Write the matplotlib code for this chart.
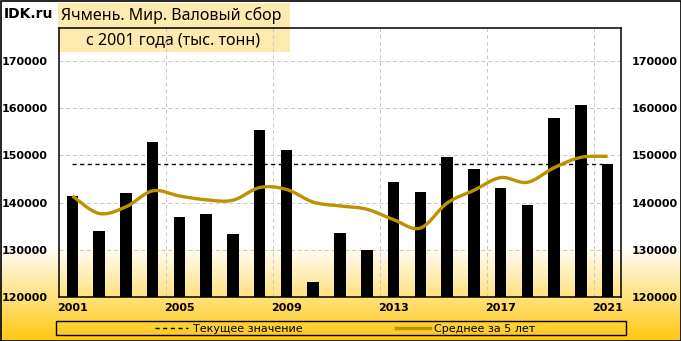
import numpy as np
import matplotlib
matplotlib.use('Agg')
from matplotlib import pyplot as plt
from matplotlib.patches import Rectangle
from matplotlib.lines import Line2D

# data (thousand tonnes)
years = list(range(2001, 2022))
harvest = [141500, 133900, 142000, 152800, 136900, 137500, 133300, 155300, 151100, 123100,
           133500, 129900, 144300, 142200, 149600, 147100, 143200, 139400, 157900, 160600, 148100]
avg5 = [141400, 137700, 139100, 142500, 141400, 140600, 140500, 143200, 142800, 140100,
        139300, 138600, 136400, 134600, 139900, 142600, 145300, 144300, 147400, 149600, 149800]
current = 148100
tick_years = [2001, 2005, 2009, 2013, 2017, 2021]
title1 = 'Ячмень. Мир. Валовый сбор'
title2 = 'с 2001 года (тыс. тонн)'
leg_cur = 'Текущее значение'
leg_avg = 'Среднее за 5 лет'

W, H = 681, 341
gold = '#BF9000'


def smooth(x, y, n=20):
    # excel style smoothed line (catmull-rom bezier)
    x = np.asarray(x, float); y = np.asarray(y, float)
    px = np.concatenate([[x[0]], x, [x[-1]]])
    py = np.concatenate([[y[0]], y, [y[-1]]])
    xs, ys = [], []
    t = np.linspace(0, 1, n)
    for i in range(1, len(px) - 2):
        p0 = np.array([px[i], py[i]]); p3 = np.array([px[i+1], py[i+1]])
        c1 = p0 + (np.array([px[i+1], py[i+1]]) - np.array([px[i-1], py[i-1]])) / 6
        c2 = p3 - (np.array([px[i+2], py[i+2]]) - np.array([px[i], py[i]])) / 6
        b = ((1-t)**3)[:, None]*p0 + (3*(1-t)**2*t)[:, None]*c1 + (3*(1-t)*t**2)[:, None]*c2 + (t**3)[:, None]*p3
        xs.extend(b[:, 0]); ys.extend(b[:, 1])
    return xs, ys


fig = plt.figure(figsize=(W/100, H/100), dpi=100)

# background: white top, gold gradient at the bottom
bg = fig.add_axes([0, 0, 1, 1], zorder=0)
bg.set_xlim(0, W); bg.set_ylim(H, 0); bg.axis('off')
rows = np.arange(H)
f = np.clip((rows - 245) / (H - 245), 0, 1)
top = np.array([1.0, 1.0, 1.0]); bot = np.array([1.0, 0.78, 0.05])
grad = top[None, :] * (1 - f[:, None]) + bot[None, :] * f[:, None]
img = np.repeat(grad[:, None, :], 2, axis=1)
bg.imshow(img, extent=(0, W, H, 0), aspect='auto', interpolation='bilinear')
bg.add_patch(Rectangle((0.5, 0.5), W-1, H-1, fill=False, ec='black', lw=1.2))
bg.add_patch(Rectangle((58, 3), 232, 49, fc='#FEE9AE', ec='none'))
bg.text(4, 14, 'IDK.ru', fontsize=10, fontweight='bold', va='center', ha='left')
bg.text(61, 15, title1, fontsize=11.5, family='Noto Sans', va='center', ha='left')
bg.text(173, 40, title2, fontsize=11.5, family='Noto Sans', va='center', ha='center')

# legend box
bg.add_patch(Rectangle((56, 321), 570, 14, fill=False, ec='black', lw=1))
bg.add_line(Line2D([155, 188], [328, 328], color='black', lw=1, ls=(0, (3, 2.5))))
bg.text(193, 328.5, leg_cur, fontsize=8, va='center', ha='left')
bg.add_line(Line2D([396, 430], [328, 328], color=gold, lw=2.5))
bg.text(434, 328.5, leg_avg, fontsize=8, va='center', ha='left')

# main plot
ax = fig.add_axes([59/W, 1 - 297/H, 562/W, 269/H], zorder=1)
ax.set_facecolor('none')
ax.bar(years, harvest, width=0.43, color='black', zorder=3)
ax.hlines(current, years[0], years[-1], colors='black', lw=1, linestyles=(0, (3, 2.5)), zorder=4)
sx, sy = smooth(years, avg5)
ax.plot(sx, sy, color=gold, lw=2.4, zorder=5, solid_capstyle='butt')

ax.set_xlim(2000.5, 2021.5)
ax.set_ylim(120000, 177000)
ax.set_xticks(tick_years)
ax.set_xticks([2004.5, 2008.5, 2012.5, 2016.5, 2020.5], minor=True)
ax.set_yticks(range(120000, 170001, 10000))
ax.tick_params(axis='both', which='both', length=0)
ax.tick_params(axis='x', pad=4)
ax.tick_params(axis='y', pad=8)
for lab in ax.get_xticklabels() + ax.get_yticklabels():
    lab.set_fontweight('bold'); lab.set_fontsize(8)
ax.grid(axis='y', color='#C8C8C8', ls=(0, (4, 3)), lw=0.7, zorder=1)
ax.grid(axis='x', which='minor', color='#C8C8C8', ls=(0, (4, 3)), lw=0.7, zorder=1)
for s in ax.spines.values():
    s.set_linewidth(1.1)

ax2 = ax.twinx()
ax2.set_ylim(ax.get_ylim())
ax2.set_yticks(range(120000, 170001, 10000))
ax2.tick_params(axis='y', length=0, pad=8)
for lab in ax2.get_yticklabels():
    lab.set_fontweight('bold'); lab.set_fontsize(8)
for s in ax2.spines.values():
    s.set_visible(False)

fig.savefig('out.png', dpi=100)
